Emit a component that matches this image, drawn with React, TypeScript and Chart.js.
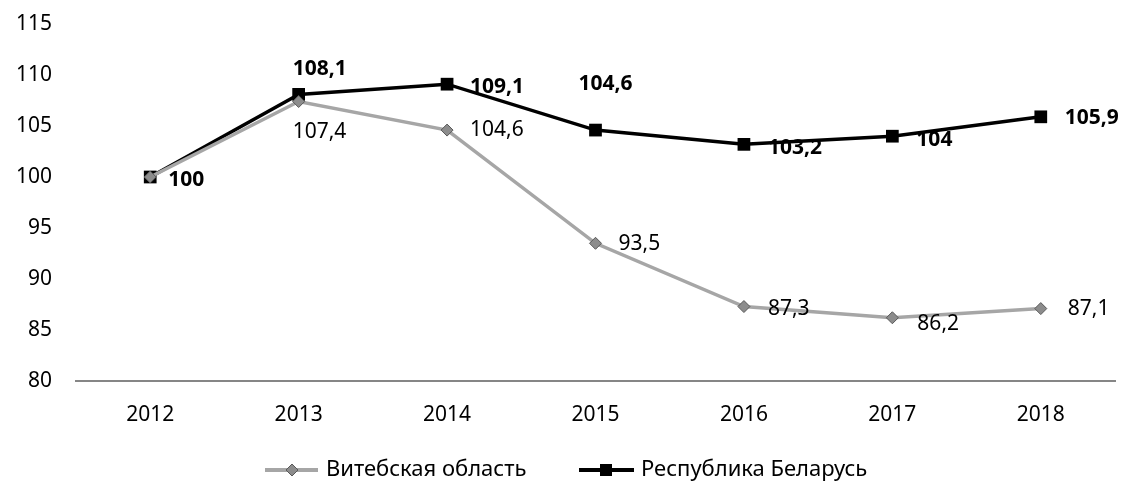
import React, { useEffect, useRef } from "react";
import { Chart, registerables } from "chart.js";

Chart.register(...registerables);

const categories = ["2012", "2013", "2014", "2015", "2016", "2017", "2018"];
const vitebsk = [100, 107.4, 104.6, 93.5, 87.3, 86.2, 87.1];
const belarus = [100, 108.1, 109.1, 104.6, 103.2, 104, 105.9];
const seriesNames = ["Витебская область", "Республика Беларусь"];
const yTicks = [80, 85, 90, 95, 100, 105, 110, 115];

const FONT = "'Noto Sans', sans-serif";

const fmt = (v: number) => String(v).replace(".", ",");

// label placement per point: [dx, dy, align] ; null = hidden
const labelPlacement: (null | [number, number, CanvasTextAlign])[][] = [
  [null, [-6, 30, "left"], [23, 0, "left"], [23, 1, "left"], [24, 2, "left"], [25, 6, "left"], [27, 0, "left"]],
  [[18, 3, "left"], [-6, -25, "left"], [23, 3, "left"], [-17, -46, "left"], [24, 4, "left"], [24, 4, "left"], [24, 1, "left"]],
];

const labelsPlugin = {
  id: "pointLabels",
  afterDatasetsDraw(chart: any) {
    const ctx = chart.ctx;
    ctx.save();
    ctx.textBaseline = "middle";
    chart.data.datasets.forEach((ds: any, di: number) => {
      const meta = chart.getDatasetMeta(di);
      ctx.font = (di === 1 ? "bold " : "") + "21px " + FONT;
      ctx.fillStyle = "#000";
      meta.data.forEach((pt: any, i: number) => {
        const p = labelPlacement[di][i];
        if (!p) return;
        ctx.textAlign = p[2];
        ctx.fillText(fmt(ds.data[i]), pt.x + p[0], pt.y + p[1]);
      });
    });
    ctx.restore();
  },
};

const legendPlugin = {
  id: "customLegend",
  afterDraw(chart: any) {
    const ctx = chart.ctx;
    const y = 470;
    ctx.save();
    ctx.font = "22px " + FONT;
    ctx.textBaseline = "middle";
    ctx.textAlign = "left";
    // item 1
    ctx.strokeStyle = "#A6A6A6";
    ctx.lineWidth = 4;
    ctx.beginPath();
    ctx.moveTo(265, y);
    ctx.lineTo(318, y);
    ctx.stroke();
    ctx.fillStyle = "#8C8C8C";
    ctx.strokeStyle = "#595959";
    ctx.lineWidth = 1;
    ctx.beginPath();
    ctx.moveTo(292, y - 6);
    ctx.lineTo(298, y);
    ctx.lineTo(292, y + 6);
    ctx.lineTo(286, y);
    ctx.closePath();
    ctx.fill();
    ctx.stroke();
    ctx.fillStyle = "#000";
    ctx.fillText(seriesNames[0], 326, y);
    // item 2
    ctx.strokeStyle = "#000";
    ctx.lineWidth = 4;
    ctx.beginPath();
    ctx.moveTo(579, y);
    ctx.lineTo(634, y);
    ctx.stroke();
    ctx.fillRect(600, y - 6, 12, 12);
    ctx.fillText(seriesNames[1], 641, y);
    ctx.restore();
  },
};

export default function App() {
  const ref = useRef<HTMLCanvasElement>(null);
  useEffect(() => {
    if (!ref.current) return;
    const chart = new Chart(ref.current, {
      type: "line",
      data: {
        labels: categories,
        datasets: [
          {
            label: seriesNames[0],
            data: vitebsk,
            borderColor: "#A6A6A6",
            borderWidth: 3.5,
            pointStyle: "rectRot",
            pointRadius: 6,
            pointBackgroundColor: "#8C8C8C",
            pointBorderColor: "#595959",
            pointBorderWidth: 1,
            tension: 0,
          },
          {
            label: seriesNames[1],
            data: belarus,
            borderColor: "#000",
            borderWidth: 3.5,
            pointStyle: "rect",
            pointRadius: 9,
            pointBackgroundColor: "#000",
            pointBorderColor: "#000",
            pointBorderWidth: 0,
            tension: 0,
          },
        ],
      },
      options: {
        responsive: false,
        animation: false,
        layout: { padding: { top: 24, right: 11, left: 0, bottom: 0 } },
        plugins: { legend: { display: false }, tooltip: { enabled: false } },
        scales: {
          x: {
            offset: true,
            grid: { display: false, drawTicks: false },
            border: { display: true, color: "#868686", width: 2 },
            ticks: { color: "#000", font: { family: FONT, size: 21 }, padding: 21 },
            afterFit: (s: any) => {
              s.height = 108;
              s.paddingLeft = 0;
              s.paddingRight = 0;
            },
          },
          y: {
            min: 80,
            max: 115,
            afterBuildTicks: (s: any) => {
              s.ticks = yTicks.map((v) => ({ value: v }));
            },
            grid: { display: false, drawTicks: false },
            border: { display: false },
            ticks: { color: "#000", font: { family: FONT, size: 21 }, padding: 24 },
            afterFit: (s: any) => {
              s.width = 76;
              s.paddingTop = 0;
              s.paddingBottom = 0;
            },
          },
        },
      },
      plugins: [labelsPlugin, legendPlugin],
    });
    return () => chart.destroy();
  }, []);
  return (
    <div style={{ position: "fixed", left: 0, top: 0, width: 1126, height: 489, background: "#fff" }}>
      <canvas ref={ref} width={1126} height={489} style={{ display: "block" }} />
    </div>
  );
}
